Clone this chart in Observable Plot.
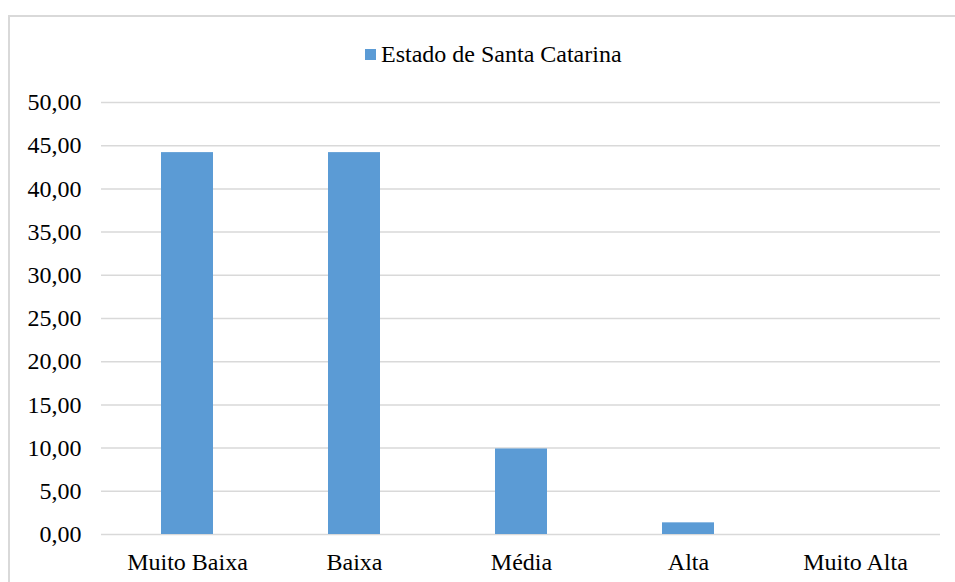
<!DOCTYPE html>
<html>
<head>
<meta charset="utf-8">
<script src="https://cdn.jsdelivr.net/npm/d3@7"></script>
<script src="https://cdn.jsdelivr.net/npm/@observablehq/plot@0.6"></script>
<style>
  html, body { margin: 0; padding: 0; background: #fff; overflow: hidden; }
  body { width: 955px; height: 582px; position: relative; font-family: 'Liberation Serif', serif; }
  #frame { position: absolute; left: 8px; top: 15px; width: 970px; height: 620px; border: 2px solid #d9d9d9; box-sizing: border-box; }
  #legend { position: absolute; left: 365px; top: 39px; height: 30px; display: flex; align-items: center; font-family: 'Liberation Serif', serif; font-size: 24px; color: #000; white-space: nowrap; }
  #legend .sw { width: 11px; height: 11px; background: #5b9bd5; margin-right: 5px; }
  #chart { position: absolute; left: 0; top: 0; }
</style>
</head>
<body>
<div id="frame"></div>
<div id="legend"><span class="sw"></span><span id="legendText"></span></div>
<div id="chart"></div>
<script>
const seriesName = "Estado de Santa Catarina";
const categories = ["Muito Baixa", "Baixa", "Média", "Alta", "Muito Alta"];
const values = [44.2, 44.2, 9.9, 1.35, 0];
const yTicks = [0, 5, 10, 15, 20, 25, 30, 35, 40, 45, 50];
const yTickLabels = ["0,00", "5,00", "10,00", "15,00", "20,00", "25,00", "30,00", "35,00", "40,00", "45,00", "50,00"];

document.getElementById("legendText").textContent = seriesName;

const data = categories.map((c, i) => ({category: c, value: values[i]}));
const FONT = "Liberation Serif";

const chart = Plot.plot({
  width: 955,
  height: 582,
  marginTop: 102,
  marginBottom: 48,
  marginLeft: 101,
  marginRight: 15,
  style: "font-family: 'Liberation Serif', serif; font-size: 24px; color: #000; background: transparent; overflow: visible;",
  x: {domain: categories, paddingInner: 0.69, paddingOuter: 0.345, label: null},
  y: {domain: [0, 50], label: null},
  marks: [
    Plot.gridY(yTicks, {stroke: "#d9d9d9", strokeOpacity: 1, strokeWidth: 1.5}),
    Plot.barY(data, {x: "category", y: "value", fill: "#5b9bd5"}),
    Plot.axisY(yTicks, {tickSize: 0, tickPadding: 20, tickFormat: (d) => yTickLabels[yTicks.indexOf(d)], fill: "#000", fontSize: 24, fontFamily: FONT}),
    Plot.axisX({tickSize: 0, tickPadding: 18, fill: "#000", fontSize: 24, fontFamily: FONT})
  ]
});
document.getElementById("chart").appendChild(chart);
</script>
</body>
</html>
